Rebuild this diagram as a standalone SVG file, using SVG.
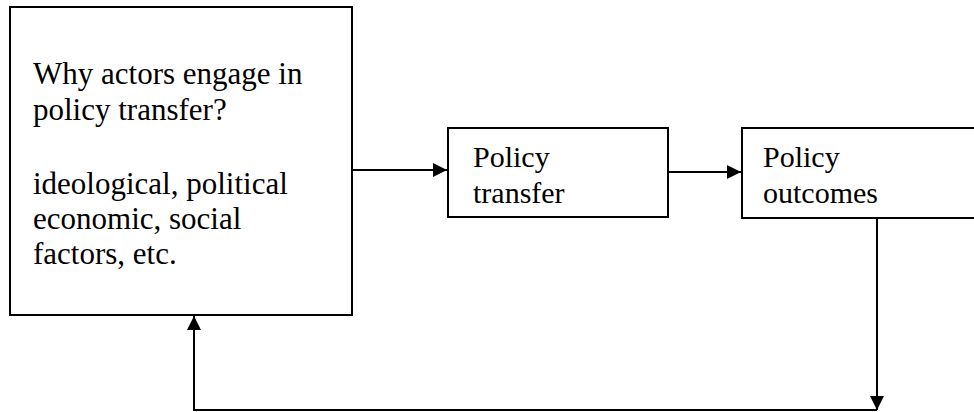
<svg xmlns="http://www.w3.org/2000/svg" width="974" height="412" viewBox="0 0 974 412">
<style>
.box{fill:#fff;stroke:#000;stroke-width:2}
.t{font-family:"Liberation Serif","Times New Roman",serif;font-size:30px;fill:#000}
.c{fill:none;stroke:#000;stroke-width:2}
</style>
<defs>
<marker id="ah" viewBox="0 0 10 10" refX="10" refY="5" markerWidth="14" markerHeight="14" markerUnits="userSpaceOnUse" orient="auto">
<path d="M0,0 L10,5 L0,10 z" fill="#000"/>
</marker>
</defs>
<rect width="974" height="412" fill="#fff"/>
<g id="why">
<rect class="box" x="10" y="7" width="342" height="308"/>
<text class="t" x="33" y="84" style="font-size:31px">Why actors engage in</text>
<text class="t" x="33" y="120" style="font-size:31px">policy transfer?</text>
<text class="t" x="33" y="194" style="font-size:31px">ideological, political</text>
<text class="t" x="33" y="229" style="font-size:31px">economic, social</text>
<text class="t" x="33" y="264" style="font-size:31px">factors, etc.</text>
</g>
<g id="transfer">
<rect class="box" x="448" y="128" width="220" height="89"/>
<text class="t" x="473" y="167">Policy</text>
<text class="t" x="473" y="203">transfer</text>
</g>
<g id="outcomes">
<rect class="box" x="742" y="128" width="240" height="90"/>
<text class="t" x="763" y="167">Policy</text>
<text class="t" x="763" y="203">outcomes</text>
</g>
<g id="connectors">
<line class="c" x1="352" y1="170" x2="447" y2="170" marker-end="url(#ah)"/>
<line class="c" x1="668" y1="172" x2="741" y2="172" marker-end="url(#ah)"/>
<line class="c" x1="877" y1="218" x2="877" y2="410" marker-end="url(#ah)"/>
<polyline class="c" points="877,410 194,410 194,316" marker-end="url(#ah)"/>
</g>
</svg>
